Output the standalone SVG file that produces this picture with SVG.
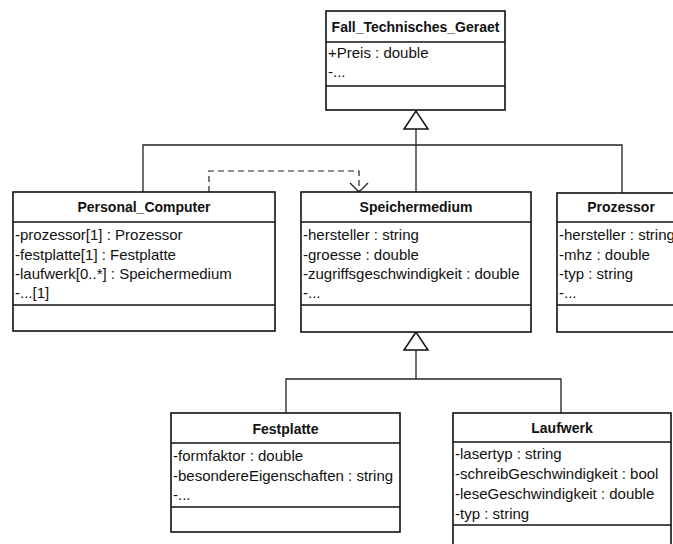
<svg xmlns="http://www.w3.org/2000/svg" width="673" height="544" viewBox="0 0 673 544">
  <style>
    .box { fill: #ffffff; stroke: #111111; stroke-width: 1.6; }
    .div { stroke: #111111; stroke-width: 1.6; }
    .title { font-family: "Liberation Sans", Arial, sans-serif; font-size: 14px; font-weight: bold; fill: #111111; text-anchor: middle; }
    .attr { font-family: "Liberation Sans", Arial, sans-serif; font-size: 15px; fill: #111111; }
    .line { fill: none; stroke: #222222; stroke-width: 1.3; }
    .dash { fill: none; stroke: #222222; stroke-width: 1.2; stroke-dasharray: 6 4; }
    .tri { fill: #ffffff; stroke: #111111; stroke-width: 1.5; stroke-linejoin: miter; }
  </style>
  <rect width="673" height="544" fill="#ffffff"/>

  <!-- connectors -->
  <g id="connectors">
    <!-- generalisation to Fall_Technisches_Geraet -->
    <polyline class="line" points="143,192 143,145 622,145 622,193"/>
    <line class="line" x1="416" y1="129" x2="416" y2="192"/>
    <polygon class="tri" points="416,111 404,129 428,129"/>
    <!-- dependency Personal_Computer -> Speichermedium -->
    <polyline class="dash" points="209,192 209,171 359,171 359,191"/>
    <polyline class="line" points="350,183 359,192 368,183"/>
    <!-- generalisation to Speichermedium -->
    <polyline class="line" points="286,413 286,379 561,379 561,413"/>
    <line class="line" x1="416" y1="350" x2="416" y2="379"/>
    <polygon class="tri" points="416,332 404,350 428,350"/>
  </g>

  <g id="fall_technisches_geraet">
    <rect class="box" x="326" y="11" width="179" height="99"/>
    <line class="div" x1="326" y1="42" x2="505" y2="42"/>
    <line class="div" x1="326" y1="86" x2="505" y2="86"/>
    <text class="title" x="415.5" y="32">Fall_Technisches_Geraet</text>
    <text class="attr" x="328" y="58">+Preis : double</text>
    <text class="attr" x="328" y="77">-...</text>
  </g>

  <g id="personal_computer">
    <rect class="box" x="13" y="192" width="262" height="139"/>
    <line class="div" x1="13" y1="222" x2="275" y2="222"/>
    <line class="div" x1="13" y1="305" x2="275" y2="305"/>
    <text class="title" x="144" y="212">Personal_Computer</text>
    <text class="attr" x="15" y="240">-prozessor[1] : Prozessor</text>
    <text class="attr" x="15" y="260">-festplatte[1] : Festplatte</text>
    <text class="attr" x="15" y="279">-laufwerk[0..*] : Speichermedium</text>
    <text class="attr" x="15" y="298">-...[1]</text>
  </g>

  <g id="speichermedium">
    <rect class="box" x="301" y="192" width="230" height="140"/>
    <line class="div" x1="301" y1="222" x2="531" y2="222"/>
    <line class="div" x1="301" y1="305" x2="531" y2="305"/>
    <text class="title" x="416" y="212">Speichermedium</text>
    <text class="attr" x="303" y="240">-hersteller : string</text>
    <text class="attr" x="303" y="260">-groesse : double</text>
    <text class="attr" x="303" y="279">-zugriffsgeschwindigkeit : double</text>
    <text class="attr" x="303" y="298">-...</text>
  </g>

  <g id="prozessor">
    <rect class="box" x="557" y="193" width="130" height="139"/>
    <line class="div" x1="557" y1="222" x2="687" y2="222"/>
    <line class="div" x1="557" y1="305" x2="687" y2="305"/>
    <text class="title" x="621" y="212">Prozessor</text>
    <text class="attr" x="559" y="240">-hersteller : string</text>
    <text class="attr" x="559" y="260">-mhz : double</text>
    <text class="attr" x="559" y="279">-typ : string</text>
    <text class="attr" x="559" y="298">-...</text>
  </g>

  <g id="festplatte">
    <rect class="box" x="171" y="413" width="229" height="119"/>
    <line class="div" x1="171" y1="443" x2="400" y2="443"/>
    <line class="div" x1="171" y1="507" x2="400" y2="507"/>
    <text class="title" x="285.5" y="434">Festplatte</text>
    <text class="attr" x="173" y="461">-formfaktor : double</text>
    <text class="attr" x="173" y="481">-besondereEigenschaften : string</text>
    <text class="attr" x="173" y="500">-...</text>
  </g>

  <g id="laufwerk">
    <rect class="box" x="453" y="413" width="218" height="140"/>
    <line class="div" x1="453" y1="442" x2="671" y2="442"/>
    <line class="div" x1="453" y1="525" x2="671" y2="525"/>
    <text class="title" x="562" y="433">Laufwerk</text>
    <text class="attr" x="455" y="459">-lasertyp : string</text>
    <text class="attr" x="455" y="479">-schreibGeschwindigkeit : bool</text>
    <text class="attr" x="455" y="499">-leseGeschwindigkeit : double</text>
    <text class="attr" x="455" y="519">-typ : string</text>
  </g>
</svg>
